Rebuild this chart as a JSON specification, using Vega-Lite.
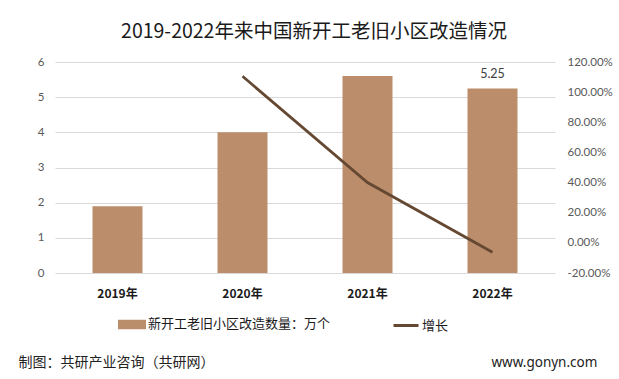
{
  "$schema": "https://vega.github.io/schema/vega-lite/v6.json",
  "width": 500,
  "height": 211,
  "autosize": {"type": "none"},
  "padding": {"left": 55, "top": 62, "right": 64, "bottom": 106},
  "background": "white",
  "config": {"view": {"stroke": null}, "font": "Noto Sans CJK SC"},
  "title": {
    "text": "2019-2022年来中国新开工老旧小区改造情况",
    "fontSize": 19.5,
    "fontWeight": "normal",
    "color": "#1a1a1a",
    "font": "Noto Sans CJK SC",
    "anchor": "middle",
    "dx": 9,
    "offset": 14
  },
  "data": {
    "values": [
      {"year": "2019年", "count": 1.9, "growth": null},
      {"year": "2020年", "count": 4.0, "growth": 1.105},
      {"year": "2021年", "count": 5.6, "growth": 0.40},
      {"year": "2022年", "count": 5.25, "growth": -0.0625}
    ]
  },
  "encoding": {
    "x": {
      "field": "year",
      "type": "nominal",
      "sort": null,
      "scale": {"paddingInner": 0.6, "paddingOuter": 0.3},
      "axis": {
        "labelAngle": 0,
        "domain": false,
        "ticks": false,
        "labelFontWeight": "bold",
        "labelFontSize": 12,
        "labelColor": "#1a1a1a",
        "labelFont": "Noto Sans CJK SC",
        "labelPadding": 15,
        "title": "制图：共研产业咨询（共研网）",
        "titleFontSize": 14,
        "titleFontWeight": "normal",
        "titleColor": "#222222",
        "titleFont": "Noto Sans CJK SC",
        "titleX": -37,
        "titleY": 93,
        "titleAlign": "left",
        "titleAnchor": "start",
        "titleBaseline": "alphabetic"
      }
    }
  },
  "layer": [
    {
      "encoding": {
        "y": {
          "field": "count",
          "type": "quantitative",
          "scale": {"domain": [0, 6], "nice": false},
          "axis": {
            "values": [0, 1, 2, 3, 4, 5, 6],
            "labelOverlap": false,
            "grid": true,
            "gridColor": "#d9d9d9",
            "domain": false,
            "ticks": false,
            "labelPadding": 11,
            "labelFontSize": 11.5,
            "labelColor": "#595959",
            "labelFont": "Lato",
            "title": null
          }
        }
      },
      "layer": [
        {
          "mark": {"type": "bar"},
          "encoding": {
            "color": {
              "datum": "新开工老旧小区改造数量：万个",
              "scale": {
                "domain": ["新开工老旧小区改造数量：万个", "增长"],
                "range": ["#BB8D6B", "#654832"]
              },
              "legend": {
                "orient": "none",
                "legendX": 63,
                "legendY": 248,
                "direction": "horizontal",
                "title": null,
                "labelFontSize": 13,
                "labelLimit": 400,
                "labelColor": "#1a1a1a",
                "labelFont": "Noto Sans CJK SC",
                "symbolSize": 625,
                "labelOffset": 2,
                "columnPadding": 56,
                "encode": {
                  "symbols": {
                    "update": {
                      "shape": {"signal": "datum.value === '增长' ? 'M-1,0H1' : 'M-1,-0.26H1V0.26H-1Z'"},
                      "fill": {"signal": "datum.value === '增长' ? 'transparent' : '#BB8D6B'"},
                      "stroke": {"signal": "datum.value === '增长' ? '#654832' : 'transparent'"},
                      "strokeWidth": {"value": 3},
                      "opacity": {"value": 1},
                      "fillOpacity": {"value": 1},
                      "strokeOpacity": {"value": 1}
                    }
                  }
                }
              }
            }
          }
        },
        {
          "transform": [{"filter": "datum.year === '2022年'"}],
          "mark": {"type": "text", "baseline": "bottom", "dy": -7, "fontSize": 12.5, "color": "#404040", "font": "Lato"},
          "encoding": {
            "text": {"field": "count", "type": "quantitative", "format": ".2f"}
          }
        }
      ]
    },
    {
      "transform": [{"filter": "isValid(datum.growth)"}],
      "mark": {"type": "line", "strokeWidth": 2.75},
      "encoding": {
        "y": {
          "field": "growth",
          "type": "quantitative",
          "scale": {"domain": [-0.2, 1.2], "nice": false},
          "axis": {
            "orient": "right",
            "values": [-0.2, 0, 0.2, 0.4, 0.6, 0.8, 1.0, 1.2],
            "labelExpr": "replace(format(datum.value, '.2%'), '−', '-')",
            "labelOverlap": false,
            "grid": false,
            "domain": false,
            "ticks": false,
            "labelAlign": "left",
            "labelPadding": 12,
            "labelFontSize": 11.5,
            "labelColor": "#595959",
            "labelFont": "Lato",
            "title": "www.gonyn.com",
            "titleAngle": 0,
            "titleX": -64,
            "titleY": 304,
            "titleAlign": "left",
            "titleBaseline": "alphabetic",
            "titleFontSize": 13.5,
            "titleFontWeight": "normal",
            "titleColor": "#222222",
            "titleFont": "Noto Sans"
          }
        },
        "color": {"datum": "增长"}
      }
    }
  ],
  "resolve": {"scale": {"y": "independent"}}
}
